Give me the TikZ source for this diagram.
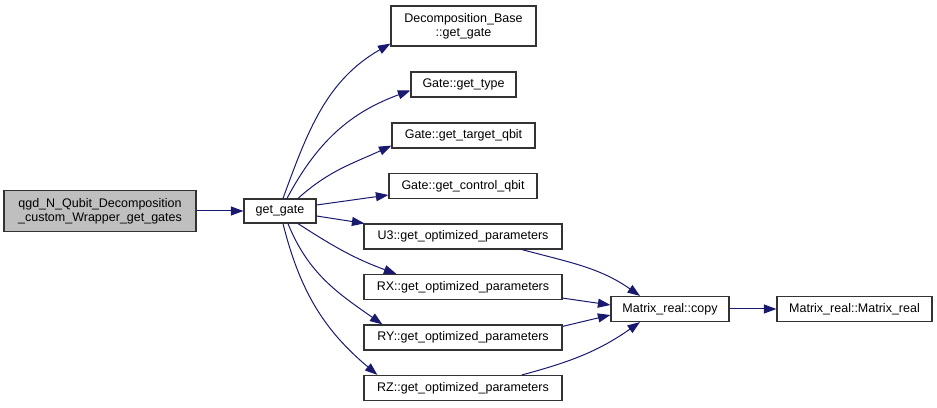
\documentclass[tikz,border=0pt]{standalone}
\usepackage{fontspec}
\setmainfont{Liberation Sans}
\usetikzlibrary{arrows.meta}
\definecolor{edgeblue}{HTML}{191970}
\definecolor{rootgray}{HTML}{BFBFBF}

\tikzset{
  fnbox/.style={draw=black!80, line width=1.2pt, inner sep=0pt, align=center,
    font=\fontsize{12.5}{14}\selectfont, minimum height=25pt},
  rootbox/.style={fnbox, fill=rootgray},
  call/.style={draw=edgeblue, line width=1pt, -{Triangle[length=12.5pt,width=9pt]}}
}

\begin{document}
\begin{tikzpicture}[x=1pt,y=1pt]
\useasboundingbox (0,0) rectangle (937,407);

% Functions
\node[rootbox, minimum width=192pt, minimum height=41pt] (main) at (100,196)
  {qgd\_N\_Qubit\_Decomposition\\\_custom\_Wrapper\_get\_gates};
\node[fnbox, minimum width=72pt, minimum height=24pt] (getgate) at (280,196) {get\_gate};
\node[fnbox, minimum width=145pt, minimum height=40pt] (dbgetgate) at (463.5,381)
  {Decomposition\_Base\\::get\_gate};
\node[fnbox, minimum width=105pt] (gettype) at (463.5,322.5) {Gate::get\_type};       % type
\node[fnbox, minimum width=143pt] (gettarget) at (463.5,271.5) {Gate::get\_target\_qbit}; % target
\node[fnbox, minimum width=148pt] (getcontrol) at (463,221) {Gate::get\_control\_qbit};   % control
\node[fnbox, minimum width=198pt] (uthree) at (463,170.5) {U3::get\_optimized\_parameters};
\node[fnbox, minimum width=198pt] (rx) at (463,120) {RX::get\_optimized\_parameters};
\node[fnbox, minimum width=198pt] (ry) at (463,69.5) {RY::get\_optimized\_parameters};
\node[fnbox, minimum width=198pt] (rz) at (463,19) {RZ::get\_optimized\_parameters};
\node[fnbox, minimum width=118pt] (copy) at (670,98) {Matrix\_real::copy};
\node[fnbox, minimum width=155pt] (matrix) at (854.5,98) {Matrix\_real::Matrix\_real};

% Calls from get_gate
\draw[call] (main.east) -- (getgate.west);
\draw[call] ([xshift=3pt]getgate.north) to[out=70,in=210] ([yshift=3pt]dbgetgate.south west);
\draw[call] ([xshift=7pt]getgate.north) to[out=62,in=200] ([yshift=-6pt]gettype.west);
\draw[call] ([xshift=18pt]getgate.north) to[out=42,in=205] ([yshift=3pt]gettarget.south west);
\draw[call] ([yshift=6pt]getgate.east) -- ([yshift=-9pt]getcontrol.west);
\draw[call] ([yshift=-5pt]getgate.east) -- ([xshift=1pt]uthree.north west);
\draw[call] ([xshift=18pt]getgate.south) to[out=-33,in=160] ([xshift=33pt]rx.north west);
\draw[call] ([xshift=8pt]getgate.south) to[out=-68,in=145] ([xshift=19pt]ry.north west);
\draw[call] ([xshift=3pt]getgate.south) to[out=-76,in=140] ([xshift=14pt]rz.north west);

% Calls to Matrix_real::copy
\draw[call] ([xshift=59pt]uthree.south) to[out=-15,in=145] ([xshift=-30pt]copy.north);
\draw[call] ([yshift=2pt]rx.south east) -- ([yshift=4pt]copy.west);
\draw[call] ([yshift=-2pt]ry.north east) -- ([yshift=-6pt]copy.west);
\draw[call] ([xshift=59pt]rz.north) to[out=15,in=-145] ([xshift=-30pt]copy.south);
\draw[call] (copy.east) -- (matrix.west);

\end{tikzpicture}
\end{document}
